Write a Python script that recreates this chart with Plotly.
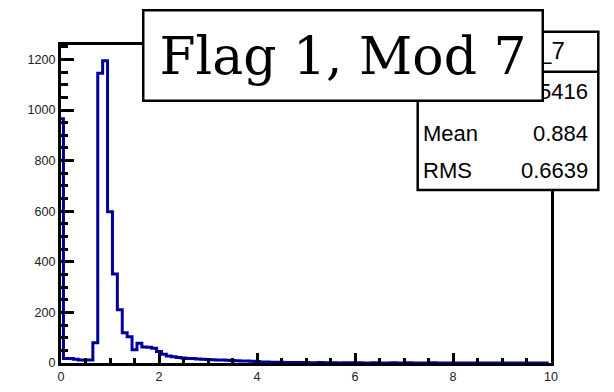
import numpy as np
import plotly.graph_objects as go

# ---- data ----
bin_centers = [round(0.1 * i, 1) for i in range(100)]
bin_width = 0.1
counts = [965, 18, 18, 15, 12, 12, 12, 80, 1145, 1195,
          598, 352, 210, 120, 104, 52, 78, 63, 62, 58,
          45, 35, 28, 25, 22, 20, 18, 18, 16, 15,
          14, 13, 12, 12, 11, 10, 9, 8, 8, 7,
          6, 4, 4, 3, 3, 3, 2, 2, 2, 2,
          2, 1, 1, 2, 1, 1, 1, 0, 1, 1,
          0, 1, 0, 0, 1, 0, 0, 0, 1, 0,
          0, 1, 0, 0, 0, 0, 1, 0, 0, 0,
          0, 0, 0, 0, 0, 0, 0, 0, 0, 0,
          0, 0, 0, 0, 0, 0, 0, 0, 0, 0]
title_text = "Flag 1, Mod 7"
stats_name = "flag1_mod_7"
stats_labels = ["Entries", "Mean", "RMS"]
stats_values = ["5416", "0.884", "0.6639"]
x_ticks = [0, 2, 4, 6, 8, 10]
y_ticks = [0, 200, 400, 600, 800, 1000, 1200]

# ---- build step outline ----
c = np.array(bin_centers)
v = np.array(counts, dtype=float)
edges = np.append(c - bin_width / 2, c[-1] + bin_width / 2)
xs = np.concatenate([[edges[0]], edges[:-1], [edges[-1], edges[-1]]])
ys = np.concatenate([[0], v, [v[-1], 0]])

W, H = 614, 392
L, R, T, B = 61, 551, 45, 363


def px(xp):
    return (xp - L) / (R - L)


def py(yp):
    return (B - yp) / (B - T)


fig = go.Figure()
fig.add_trace(go.Scatter(x=xs, y=ys, mode="lines", line_shape="hv",
                         line=dict(color="#00009a", width=3),
                         hoverinfo="skip", showlegend=False))

tickfont = dict(family="Liberation Sans, Arial, sans-serif", size=12.6, color="#222")
fig.update_xaxes(range=[0, 10], tickvals=x_ticks, ticktext=[str(t) for t in x_ticks],
                 ticks="inside", ticklen=10, tickwidth=3, tickcolor="black",
                 minor=dict(dtick=0.5, ticks="inside", ticklen=5, tickwidth=3, tickcolor="black"),
                 showline=True, linewidth=3, linecolor="black", mirror=True,
                 showgrid=False, zeroline=False, tickfont=tickfont, automargin=False)
fig.update_yaxes(range=[0, 1257], tickvals=y_ticks, ticktext=[str(t) for t in y_ticks],
                 ticks="inside", ticklen=13, tickwidth=3, tickcolor="black",
                 minor=dict(dtick=50, ticks="inside", ticklen=7, tickwidth=3, tickcolor="black"),
                 showline=True, linewidth=3, linecolor="black", mirror=True,
                 showgrid=False, zeroline=False, tickfont=tickfont, automargin=False)

# stats box
sb_l, sb_r, sb_t, sb_b, sb_sep = 417.7, 598.3, 31.7, 190, 71.7
shapes = [
    dict(type="rect", xref="paper", yref="paper", x0=px(sb_l), x1=px(sb_r),
         y0=py(sb_b), y1=py(sb_t), fillcolor="white",
         line=dict(color="black", width=2.5), layer="above"),
    dict(type="line", xref="paper", yref="paper", x0=px(sb_l), x1=px(sb_r),
         y0=py(sb_sep), y1=py(sb_sep), line=dict(color="black", width=2.5), layer="above"),
]

sfont = dict(family="Liberation Sans, Arial, sans-serif", size=22, color="black")
annotations = [
    dict(text=stats_name, xref="paper", yref="paper", x=px(567), y=py(50),
         xanchor="right", yanchor="middle", showarrow=False,
         font=dict(family="Liberation Sans, Arial, sans-serif", size=24, color="black")),
]
row_y = [91, 133, 170]
for lab, val, yy in zip(stats_labels, stats_values, row_y):
    annotations.append(dict(text=lab, xref="paper", yref="paper", x=px(421), y=py(yy),
                            xanchor="left", yanchor="middle", showarrow=False, font=sfont))
    annotations.append(dict(text=val, xref="paper", yref="paper", x=px(590), y=py(yy),
                            xanchor="right", yanchor="middle", showarrow=False, font=sfont))

# title box (on top)
annotations.append(dict(text=title_text, xref="paper", yref="paper",
                        x=px(342.5), y=py(55), xanchor="center", yanchor="middle",
                        showarrow=False, width=397, height=88, borderpad=0,
                        bgcolor="white", bordercolor="black", borderwidth=2.5,
                        font=dict(family="DejaVu Serif, serif", size=52, color="black")))

fig.update_layout(width=W, height=H, margin=dict(l=L, r=W - R, t=T, b=H - B),
                  paper_bgcolor="white", plot_bgcolor="white",
                  shapes=shapes, annotations=annotations, showlegend=False)

fig.write_html("out.html", config={"displayModeBar": False},
               post_script="document.body.style.margin='0';document.body.style.overflow='hidden';")
